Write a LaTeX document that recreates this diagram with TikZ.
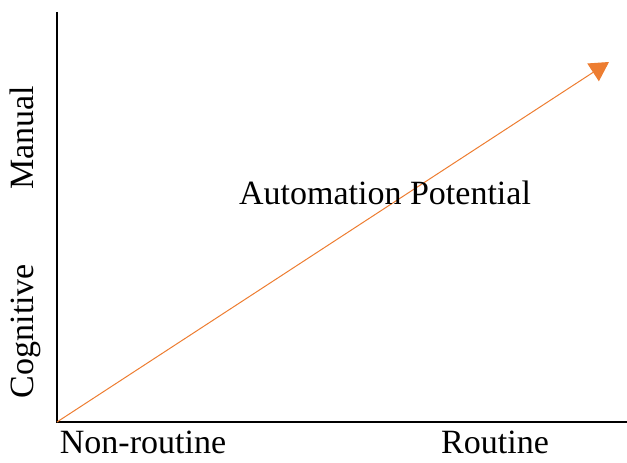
\documentclass[tikz,border=0pt]{standalone}
\usepackage{fontspec}
\setmainfont{Liberation Serif}
\usetikzlibrary{arrows.meta}
\definecolor{trendorange}{HTML}{ED7D31}
\tikzset{
  axis/.style={draw=black, line width=1.2pt},
  trend/.style={draw=trendorange, line width=1pt, -{Triangle[length=19pt,width=21pt]}},
  lbl/.style={font=\fontsize{34}{40}\selectfont, inner sep=0pt}
}
\begin{document}
\begin{tikzpicture}[x=1pt,y=1pt]
  \useasboundingbox (0,0) rectangle (627,463);
  \coordinate (origin) at (57,41);
  \coordinate (ytop) at (57,451);
  \coordinate (xend) at (627,41);
  \coordinate (tip) at (609,401);
  \draw[axis] (ytop) -- (origin) -- (xend);
  \draw[trend] (origin) -- (tip);
  \node[lbl, anchor=base] (nonroutine) at (143,9) {Non-routine};
  \node[lbl, anchor=base] (routine) at (495,9) {Routine};
  \node[lbl, rotate=90, anchor=base] (manual) at (34,325) {Manual};
  \node[lbl, rotate=90, anchor=base] (cognitive) at (34,132) {Cognitive};
  \node[lbl, anchor=base] (auto) at (385,258) {Automation Potential};
\end{tikzpicture}
\end{document}
